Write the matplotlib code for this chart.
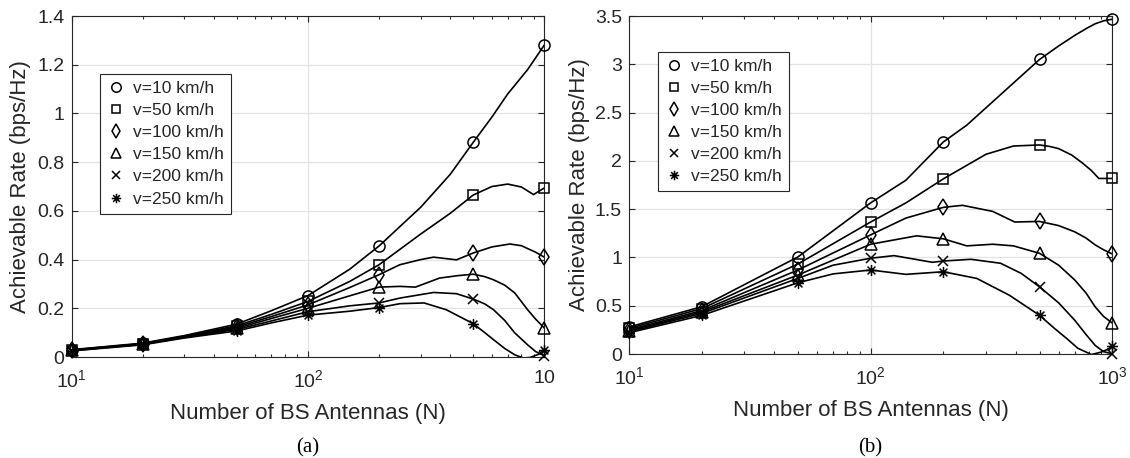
import matplotlib
matplotlib.use('Agg')
import matplotlib.pyplot as plt
from matplotlib.path import Path
from matplotlib.ticker import NullFormatter, FormatStrFormatter

plt.rcParams['font.family'] = ['Liberation Sans', 'DejaVu Sans']
plt.rcParams['mathtext.fontset'] = 'custom'
plt.rcParams['mathtext.rm'] = 'Liberation Sans'
plt.rcParams['mathtext.it'] = 'Liberation Sans:italic'

TXT = '#262626'

# antenna counts where markers sit
N_marks = [10, 20, 50, 100, 200, 500, 1000]
speeds = ['v=10 km/h', 'v=50 km/h', 'v=100 km/h', 'v=150 km/h', 'v=200 km/h', 'v=250 km/h']

# (a) points (N, rate)
a10_n = [10, 20, 30, 50, 70, 100, 150, 200, 300, 400, 500, 600, 700, 850, 1000]
a10_r = [0.030, 0.057, 0.088, 0.135, 0.19, 0.252, 0.36, 0.456, 0.615, 0.75, 0.881, 0.985, 1.08, 1.18, 1.281]
a50_n = [10, 20, 30, 50, 70, 100, 150, 200, 300, 400, 500, 600, 700, 800, 900, 1000]
a50_r = [0.029, 0.055, 0.086, 0.128, 0.175, 0.228, 0.31, 0.379, 0.505, 0.59, 0.665, 0.700, 0.71, 0.698, 0.667, 0.694]
a100_n = [10, 20, 30, 50, 70, 100, 150, 200, 245, 300, 340, 425, 500, 550, 600, 715, 800, 920, 1000]
a100_r = [0.028, 0.054, 0.084, 0.123, 0.166, 0.214, 0.285, 0.338, 0.379, 0.40, 0.410, 0.399, 0.427,
          0.44, 0.452, 0.464, 0.457, 0.43, 0.41]
a150_n = [10, 20, 30, 50, 70, 100, 150, 200, 245, 285, 360, 430, 500, 560, 610, 680, 750, 850, 920, 1000]
a150_r = [0.027, 0.053, 0.082, 0.118, 0.158, 0.200, 0.251, 0.287, 0.29, 0.287, 0.324, 0.334, 0.340,
          0.33, 0.317, 0.295, 0.263, 0.194, 0.155, 0.119]
a200_n = [10, 20, 30, 50, 70, 100, 150, 200, 245, 340, 425, 500, 560, 610, 680, 750, 850, 920, 1000]
a200_r = [0.026, 0.052, 0.080, 0.113, 0.148, 0.186, 0.21, 0.222, 0.242, 0.265, 0.26, 0.238,
          0.218, 0.194, 0.15, 0.099, 0.05, 0.022, 0.005]
a250_n = [10, 20, 30, 50, 70, 100, 150, 200, 245, 310, 385, 500, 560, 610, 680, 750, 815, 870, 950, 1000]
a250_r = [0.025, 0.050, 0.078, 0.107, 0.140, 0.172, 0.188, 0.203, 0.219, 0.222, 0.194, 0.137,
          0.10, 0.071, 0.035, 0.009, -0.004, -0.002, 0.012, 0.030]

# (b)
b10_n = [10, 20, 50, 100, 140, 200, 250, 500, 600, 700, 780, 850, 920, 1000]
b10_r = [0.28, 0.49, 1.005, 1.565, 1.80, 2.196, 2.37, 3.05, 3.19, 3.30, 3.37, 3.42, 3.45, 3.467]
b50_n = [10, 20, 50, 100, 140, 200, 300, 390, 500, 550, 600, 680, 750, 820, 880, 1000]
b50_r = [0.265, 0.47, 0.932, 1.367, 1.565, 1.814, 2.068, 2.154, 2.165, 2.15, 2.127, 2.06,
         1.981, 1.90, 1.818, 1.818]
b100_n = [10, 20, 50, 100, 140, 200, 240, 320, 395, 500, 600, 700, 780, 850, 920, 1000]
b100_r = [0.25, 0.45, 0.87, 1.234, 1.408, 1.519, 1.54, 1.477, 1.367, 1.373, 1.33, 1.265,
          1.20, 1.13, 1.08, 1.036]
b150_n = [10, 20, 50, 100, 155, 200, 250, 320, 390, 500, 600, 700, 780, 850, 920, 1000]
b150_r = [0.24, 0.435, 0.818, 1.137, 1.224, 1.193, 1.12, 1.137, 1.12, 1.043, 0.92, 0.766,
          0.63, 0.488, 0.39, 0.321]
b200_n = [10, 20, 50, 70, 100, 125, 180, 200, 260, 345, 420, 500, 600, 700, 780, 850, 920, 1000]
b200_r = [0.23, 0.42, 0.783, 0.92, 0.992, 1.019, 0.95, 0.963, 0.981, 0.94, 0.835, 0.696,
          0.53, 0.349, 0.20, 0.089, 0.025, 0.002]
b250_n = [10, 20, 50, 70, 100, 140, 200, 275, 375, 500, 580, 650, 720, 820, 900, 950, 1000]
b250_r = [0.22, 0.40, 0.738, 0.83, 0.87, 0.825, 0.852, 0.783, 0.609, 0.401, 0.26, 0.158,
          0.06, -0.005, 0.02, 0.045, 0.08]

# matlab style asterisk = plus + cross
ast = Path([(-1, 0), (1, 0), (0, -1), (0, 1), (-.707, -.707), (.707, .707), (-.707, .707), (.707, -.707)],
           [Path.MOVETO, Path.LINETO] * 4)
markers = ['o', 's', 'd', '^', 'x', ast]
msizes = [8, 6.5, 8.5, 9, 6.5, 8]


def draw(ax, series, ymax, ystep, leg_anchor, ylab_x):
    for (ns, rs), lab, mk, ms in zip(series, speeds, markers, msizes):
        ax.plot(ns, rs, color='k', lw=1.2, zorder=3)
        idx = [i for i, n in enumerate(ns) if n in N_marks]
        ax.plot([ns[i] for i in idx], [rs[i] for i in idx], ls='none', marker=mk, ms=ms,
                mfc='none', mec='k', mew=1.1, label=lab, clip_on=False, zorder=4)
    ax.set_xscale('log')
    ax.set_xlim(10, 1000)
    ax.set_ylim(0, ymax)
    yt = [ystep * k for k in range(int(round(ymax / ystep)) + 1)]
    ax.set_yticks(yt)
    ax.yaxis.set_major_formatter(FormatStrFormatter('%g'))
    ax.set_xticks([10, 100, 1000])
    ax.xaxis.set_minor_formatter(NullFormatter())
    ax.tick_params(which='both', direction='in', top=True, right=True, colors=TXT,
                   labelsize=14, width=0.8)
    ax.tick_params(which='major', length=4.5)
    ax.tick_params(axis='y', which='major', pad=5)
    ax.tick_params(axis='x', which='major', pad=9)
    ax.tick_params(which='minor', length=2.5)
    for s in ax.spines.values():
        s.set_color(TXT)
        s.set_linewidth(0.8)
    ax.grid(True, which='major', color='#e3e3e3', lw=0.9)
    ax.set_axisbelow(True)
    ax.set_xlabel('Number of BS Antennas (N)', fontsize=16, color=TXT)
    ax.set_ylabel('Achievable Rate (bps/Hz)', fontsize=16, color=TXT)
    ax.xaxis.set_label_coords(0.5, -0.135)
    ax.yaxis.set_label_coords(ylab_x, 0.5)
    leg = ax.legend(loc='upper left', bbox_to_anchor=leg_anchor, borderaxespad=0,
                    fontsize=12.5, frameon=True, fancybox=False, framealpha=1,
                    edgecolor=TXT, handlelength=1.0, handletextpad=0.5,
                    labelspacing=0.4, borderpad=0.4, markerscale=0.85)
    leg.get_frame().set_linewidth(0.8)
    for t in leg.get_texts():
        t.set_color(TXT)


fig = plt.figure(figsize=(11.3, 4.58), dpi=100)
axa = fig.add_axes([0.0633, 0.2205, 0.4184, 0.7445])
axb = fig.add_axes([0.5566, 0.2270, 0.4277, 0.7380])

draw(axa, [(a10_n, a10_r), (a50_n, a50_r), (a100_n, a100_r), (a150_n, a150_r),
           (a200_n, a200_r), (a250_n, a250_r)], 1.4, 0.2, (0.06, 0.83), -0.085)
axa.set_xticklabels(['$10^1$', '$10^2$', '$10$'])

draw(axb, [(b10_n, b10_r), (b50_n, b50_r), (b100_n, b100_r), (b150_n, b150_r),
           (b200_n, b200_r), (b250_n, b250_r)], 3.5, 0.5, (0.06, 0.895), -0.08)
axb.set_xticklabels(['$10^1$', '$10^2$', '$10^3$'])

fig.text(0.0633 + 0.4184 / 2, 0.022, '(a)', ha='center', va='center', fontsize=15,
         family='Liberation Serif')
fig.text(0.5566 + 0.4277 / 2, 0.022, '(b)', ha='center', va='center', fontsize=15,
         family='Liberation Serif')

fig.savefig('out.png', dpi=100)
